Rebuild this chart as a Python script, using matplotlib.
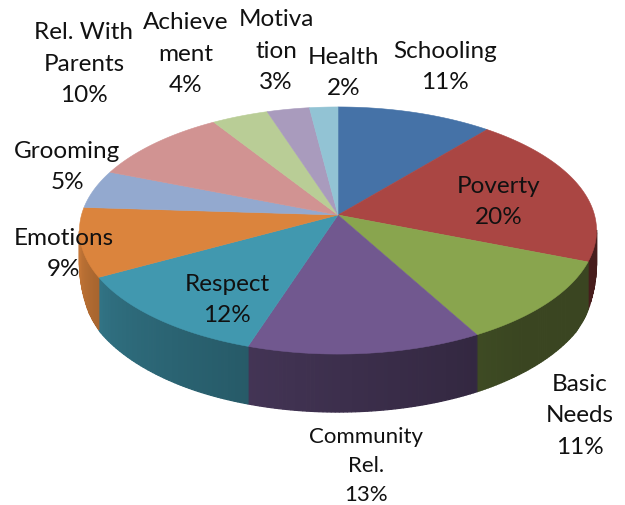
import numpy as np
import matplotlib
matplotlib.use("Agg")
import matplotlib.pyplot as plt
from matplotlib.colors import to_rgb

labels = ["Schooling\n11%", "Poverty\n20%", "Basic\nNeeds\n11%", "Community\nRel.\n13%",
          "Respect\n12%", "Emotions\n9%", "Grooming\n5%", "Rel. With\nParents\n10%",
          "Achieve\nment\n4%", "Motiva\ntion\n3%", "Health\n2%"]
values = [11, 20, 11, 13, 12, 9, 5, 10, 4, 3, 2]
top_colors = ["#4572A7", "#AA4643", "#89A54E", "#71588F", "#4198AF", "#DB843D",
              "#93A9CF", "#D19392", "#B9CD96", "#A99BBD", "#92C3D4"]
label_px = [(445, 67), (499, 202), (580, 416), (366, 466), (227, 300), (64, 254),
            (67, 167), (84, 64), (186, 54), (276, 51), (344, 73)]
label_size = [17.5, 17.5, 17.5, 16, 17.5, 17.5, 17.5, 17.5, 17.5, 17.5, 17.5]
label_spacing = [1.6, 1.6, 1.62, 1.55, 1.6, 1.6, 1.6, 1.62, 1.62, 1.6, 1.6]

plt.rcParams["font.family"] = ["Lato", "DejaVu Sans"]
fig = plt.figure(figsize=(6.25, 5.06), dpi=100)
ax = fig.add_axes([0, 0, 1, 1])
ax.set_xlim(0, 625)
ax.set_ylim(506, 0)
ax.axis("off")

CX, CY, A, AY, B = 338.0, 216.0, 256.5, 121.6, 0.1255


def project(theta):
    u, v = np.sin(theta), np.cos(theta)
    w = 1 + B * v
    return CX + A * u / w, CY - AY * v / w


def depth(y):
    return np.interp(y, [228, 265, 280, 335, 355], [30, 49, 53, 57, 58])


def shade(t):
    return np.interp(np.degrees(t), [90, 140, 175, 200, 235, 265, 280],
                     [0.42, 0.42, 0.52, 0.60, 0.72, 0.92, 0.95])


edges = 2 * np.pi * np.cumsum([0] + values) / sum(values)

# side walls
for i in range(len(values)):
    th = np.linspace(edges[i], edges[i + 1], 60)
    for t0, t1 in zip(th[:-1], th[1:]):
        tm = (t0 + t1) / 2
        if np.cos(tm) > -B:
            continue
        x0, y0 = project(t0)
        x1, y1 = project(t1)
        c = tuple(np.array(to_rgb(top_colors[i])) * shade(tm))
        ax.fill([x0, x1, x1, x0], [y0, y1, y1 + depth(y1), y0 + depth(y0)],
                facecolor=c, edgecolor=c, lw=0.9, zorder=2)

# top faces
for i, col in enumerate(top_colors):
    th = np.linspace(edges[i], edges[i + 1], 80)
    x, y = project(th)
    ax.fill(np.r_[CX, x], np.r_[CY, y], color=col, lw=0.4, zorder=3)

for (x, y), t, s, ls in zip(label_px, labels, label_size, label_spacing):
    ax.text(x, y, t, ha="center", va="center", fontsize=s, color="#111111",
            linespacing=ls, zorder=5)

fig.savefig("out.png", dpi=100)
